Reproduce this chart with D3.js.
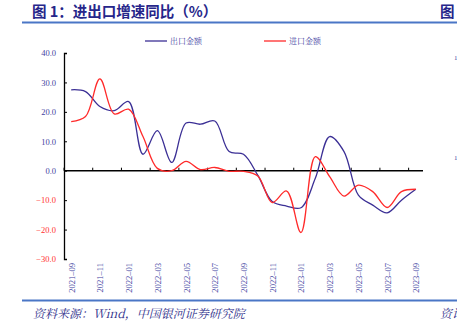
<!DOCTYPE html>
<html><head><meta charset="utf-8">
<script src="https://cdn.jsdelivr.net/npm/d3@7"></script>
<style>
html,body{margin:0;padding:0;background:#fff;}
svg{display:block;}
</style></head>
<body>
<svg id="c" width="457" height="325"></svg>
<script>
const months = ["2021-09","2021-10","2021-11","2021-12","2022-01","2022-02","2022-03","2022-04","2022-05","2022-06","2022-07","2022-08","2022-09","2022-10","2022-11","2022-12","2023-01","2023-02","2023-03","2023-04","2023-05","2023-06","2023-07","2023-08","2023-09"];
const exportsYoY = [27.5,26.9,21.8,20.4,23.5,5.6,13.6,2.8,16.2,15.8,16.9,6.5,5.6,-1.6,-10.5,-12.0,-12.6,-2.6,11.6,6.5,-8.3,-11.7,-14.3,-10.0,-6.3];
const importsYoY = [16.7,18.4,31.2,19.3,20.9,11.6,0.8,0.0,3.2,0.4,1.1,-0.2,-0.2,-1.8,-10.8,-6.9,-21.0,4.8,-2.0,-8.6,-4.9,-7.1,-12.5,-7.1,-6.3];
const yTicks = [-30,-20,-10,0,10,20,30,40];
const tickLabelMonths = months.filter((d,i)=>i%2===0);
const seriesNames = ["出口金额","进口金额"];

const svg = d3.select("#c");
const blue = "#3b2f95", red = "#ff2a2a", labBlue = "#3f3f9f";

// header / footer decoration
svg.append("text").attr("x",32).attr("y",17)
  .attr("font-family","'Noto Sans CJK SC'").attr("font-weight","bold").attr("font-size",14.5)
  .attr("fill","#26268a").text("图 1：进出口增速同比（%）");
svg.append("text").attr("x",440).attr("y",17)
  .attr("font-family","'Noto Sans CJK SC'").attr("font-weight","bold").attr("font-size",14.5)
  .attr("fill","#26268a").text("图");
svg.append("line").attr("x1",22).attr("x2",457).attr("y1",22.5).attr("y2",22.5)
  .attr("stroke","#4a76c6").attr("stroke-width",2.2);
svg.append("line").attr("x1",22).attr("x2",457).attr("y1",300.5).attr("y2",300.5)
  .attr("stroke","#4a76c6").attr("stroke-width",2.2);
svg.append("text").attr("x",33).attr("y",318)
  .attr("font-family","'Noto Serif CJK SC','Noto Sans CJK SC'").attr("font-style","italic").attr("font-size",12)
  .attr("fill","#2e2e8a").text("资料来源：Wind，中国银河证券研究院");
svg.append("text").attr("x",440).attr("y",318)
  .attr("font-family","'Noto Serif CJK SC','Noto Sans CJK SC'").attr("font-style","italic").attr("font-size",12)
  .attr("fill","#2e2e8a").text("资讯");
svg.selectAll("text.edge").data([60,160]).enter().append("text").attr("class","edge")
  .attr("x",454).attr("y",d=>d).attr("font-family","'Liberation Serif'").attr("font-size",7)
  .attr("fill",labBlue).text("1");

// scales
const x = d3.scalePoint().domain(months).range([64,423]).padding(0.5);
const y = d3.scaleLinear().domain([-30,40]).range([259,53]);
const step = x.step();

// y axis
const yAxis = svg.append("g").attr("transform","translate(64,0)")
  .call(d3.axisLeft(y).tickValues(yTicks).tickSize(-3).tickPadding(8).tickFormat(d3.format(".1f")));
yAxis.select(".domain").attr("stroke","#000").attr("stroke-width",1.3);
yAxis.selectAll(".tick line").attr("stroke","#000");
yAxis.selectAll(".tick text").attr("font-family","'Liberation Serif'").attr("font-size",8.5)
  .attr("fill",d=>d<0?"#ff3030":labBlue).text(d=>d3.format(".1f")(d).replace("-","−"));

// x axis (zero line) with ticks between categories every 2 months
const xg = svg.append("g");
xg.append("line").attr("x1",64).attr("x2",423).attr("y1",y(0)).attr("y2",y(0))
  .attr("stroke","#000").attr("stroke-width",1.5);
xg.selectAll("line.t").data(d3.range(0,months.length+1,2)).enter().append("line").attr("class","t")
  .attr("x1",d=>64+d*step).attr("x2",d=>64+d*step).attr("y1",y(0)).attr("y2",y(0)-3)
  .attr("stroke","#000").attr("stroke-width",1);
xg.selectAll("text").data(tickLabelMonths).enter().append("text")
  .attr("transform",d=>`translate(${x(d)+0.5},263) rotate(-90)`)
  .attr("text-anchor","end").attr("dy","0.35em")
  .attr("font-family","'Liberation Serif'").attr("font-size",8.5).attr("fill",labBlue)
  .text(d=>d.replace("-","–"));

// lines
const line = d3.line().x((d,i)=>x(months[i])).y(d=>y(d)).curve(d3.curveCatmullRom.alpha(0.5));
svg.append("path").datum(exportsYoY).attr("d",line).attr("fill","none").attr("stroke",blue).attr("stroke-width",1.3);
svg.append("path").datum(importsYoY).attr("d",line).attr("fill","none").attr("stroke",red).attr("stroke-width",1.3);

// legend
const leg = [{n:seriesNames[0],c:blue,x:145},{n:seriesNames[1],c:red,x:264}];
leg.forEach(l=>{
  svg.append("line").attr("x1",l.x).attr("x2",l.x+22).attr("y1",41).attr("y2",41).attr("stroke",l.c).attr("stroke-width",1.3);
  svg.append("text").attr("x",l.x+25).attr("y",44).attr("font-family","'Noto Serif CJK SC','Noto Sans CJK SC'")
    .attr("font-size",8).attr("fill",labBlue).text(l.n);
});
</script>
</body></html>
